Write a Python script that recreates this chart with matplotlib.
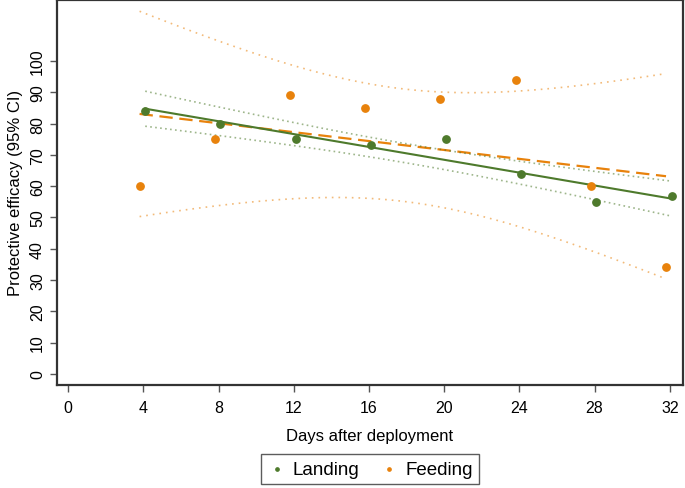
import matplotlib.pyplot as plt
import numpy as np

plt.rcParams['font.family'] = ['Liberation Sans', 'DejaVu Sans']

# data
days = np.array([4, 8, 12, 16, 20, 24, 28, 32])
landing = np.array([84, 80, 75, 73, 75, 64, 55, 57])
feeding = np.array([60, 75, 89, 85, 88, 94, 60, 34])

green = '#4e7a2c'
orange = '#e8820c'
T95 = 2.447  # t(0.975, df=6)


def fit_ci(x, y):
    b, a = np.polyfit(x, y, 1)
    xs = np.linspace(x.min(), x.max(), 100)
    yhat = a + b * xs
    res = y - (a + b * x)
    s = np.sqrt(np.sum(res**2) / (len(x) - 2))
    se = s * np.sqrt(1 / len(x) + (xs - x.mean())**2 / np.sum((x - x.mean())**2))
    return xs, yhat, yhat - T95 * se, yhat + T95 * se


fig = plt.figure(figsize=(6.85, 4.89), dpi=100)
ax = fig.add_axes([0.083, 0.211, 0.914, 0.787])

# small horizontal offset so the two groups don't overlap
xl = days + 0.1
xf = days - 0.2

xs, yh, lo, hi = fit_ci(xf, feeding)
ax.plot(xs, lo, color=orange, lw=1.2, ls=(0, (1, 3)), alpha=0.55)
ax.plot(xs, hi, color=orange, lw=1.2, ls=(0, (1, 3)), alpha=0.55)
ax.plot(xs, yh, color=orange, lw=1.6, ls=(0, (6, 3)))

xs, yh, lo, hi = fit_ci(xl, landing)
ax.plot(xs, lo, color=green, lw=1.2, ls=(0, (1, 2)), alpha=0.55)
ax.plot(xs, hi, color=green, lw=1.2, ls=(0, (1, 2)), alpha=0.55)
ax.plot(xs, yh, color=green, lw=1.5)

ax.scatter(xl, landing, s=28, color=green, zorder=5, label='Landing')
ax.scatter(xf, feeding, s=28, color=orange, zorder=5, label='Feeding')

ax.set_xlim(-0.6, 32.7)
ax.set_ylim(-3.5, 119.5)
ax.set_xticks(np.arange(0, 33, 4))
ax.set_yticks(np.arange(0, 101, 10))
ax.tick_params(axis='y', labelrotation=90, labelsize=11.5, length=5, width=1, color='#555555')
ax.tick_params(axis='x', labelsize=11.5, length=5, width=1, color='#555555', pad=6)
for lab in ax.get_yticklabels():
    lab.set_va('center')
for sp in ax.spines.values():
    sp.set_linewidth(1.6)
    sp.set_color('#333333')

ax.set_xlabel('Days after deployment', fontsize=12, labelpad=9)
ax.set_ylabel('Protective efficacy (95% CI)', fontsize=12, labelpad=5)

leg = ax.legend(loc='upper center', bbox_to_anchor=(0.5, -0.155), ncol=2, fontsize=13.5,
                frameon=True, fancybox=False, edgecolor='#333333', markerscale=0.45,
                handletextpad=0.35, columnspacing=1.1, borderpad=0.35, handlelength=1.0)
leg.get_frame().set_linewidth(1.0)

fig.savefig('out.png', dpi=100)
